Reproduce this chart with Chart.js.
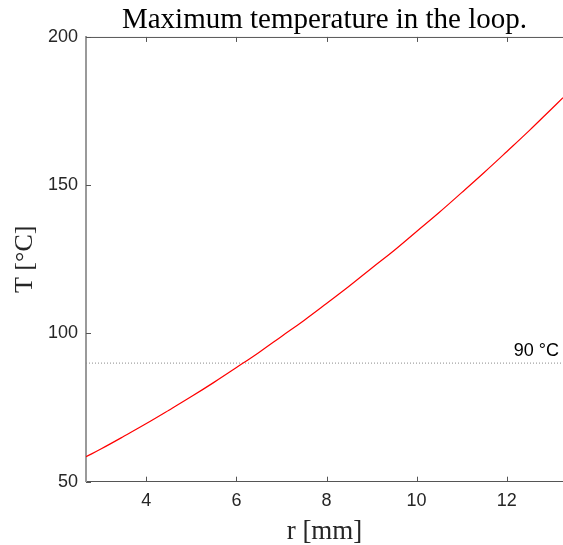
<!DOCTYPE html>
<html>
<head>
<meta charset="utf-8">
<script src="https://cdn.jsdelivr.net/npm/chart.js@4.4.1/dist/chart.umd.min.js"></script>
<style>
  html, body { margin: 0; padding: 0; background: #fff; }
</style>
</head>
<body>
<canvas id="chart" width="563" height="545"></canvas>
<script>
// values
const radius  = [2.66, 3, 3.5, 4, 4.5, 5, 5.5, 6, 6.5, 7, 7.5, 8, 8.5, 9, 9.5, 10, 10.5, 11, 11.5, 12, 12.5, 13, 13.25];
const maxTemp = [58.4, 61.1, 65.3, 69.6, 74.1, 78.7, 83.5, 88.5, 93.6, 99.0, 104.4, 110.1, 115.9, 122.0, 128.0, 134.4, 140.8, 147.5, 154.3, 161.3, 168.4, 175.8, 179.5];
const limitTemp = 90;
const limitLabel = '90 °C';
const xTicks = [4, 6, 8, 10, 12];
const yTicks = [50, 100, 150, 200];
const xRange = [2.66, 13.25];
const yRange = [50, 200];

const tickFont = { family: 'Liberation Sans, Arial, sans-serif', size: 18 };
const serif = 'Liberation Serif, Times New Roman, serif';

// MATLAB-style ticks pointing into the box, plus the top frame and the limit label
const boxDecor = {
  id: 'boxDecor',
  afterDraw(chart) {
    const { ctx, chartArea: a, scales: { x, y } } = chart;
    ctx.save();
    ctx.strokeStyle = '#555';
    ctx.lineWidth = 1;
    ctx.beginPath();
    ctx.moveTo(a.left, a.top + 0.5);
    ctx.lineTo(a.right, a.top + 0.5);
    xTicks.forEach(v => {
      const px = Math.round(x.getPixelForValue(v)) + 0.5;
      ctx.moveTo(px, a.bottom);
      ctx.lineTo(px, a.bottom - 5);
      ctx.moveTo(px, a.top);
      ctx.lineTo(px, a.top + 5);
    });
    yTicks.forEach(v => {
      const py = Math.round(y.getPixelForValue(v)) + 0.5;
      ctx.moveTo(a.left, py);
      ctx.lineTo(a.left + 5, py);
    });
    ctx.stroke();

    ctx.fillStyle = '#000';
    ctx.font = '18px Liberation Sans, Arial, sans-serif';
    ctx.textAlign = 'right';
    ctx.textBaseline = 'alphabetic';
    ctx.fillText(limitLabel, a.right - 4, y.getPixelForValue(limitTemp) - 7);
    ctx.restore();
  }
};

new Chart(document.getElementById('chart'), {
  type: 'line',
  data: {
    datasets: [
      {
        data: radius.map((r, i) => ({ x: r, y: maxTemp[i] })),
        borderColor: '#ff0000',
        borderWidth: 1.2,
        pointRadius: 0,
        tension: 0.4,
        fill: false
      },
      {
        data: [{ x: xRange[0], y: limitTemp }, { x: xRange[1], y: limitTemp }],
        borderColor: '#8a8a8a',
        borderWidth: 1,
        borderDash: [1, 2],
        pointRadius: 0,
        fill: false
      }
    ]
  },
  options: {
    responsive: false,
    animation: false,
    layout: { padding: 0 },
    plugins: {
      legend: { display: false },
      tooltip: { enabled: false },
      title: {
        display: true,
        text: 'Maximum temperature in the loop.',
        fullSize: false,
        color: '#000',
        font: { family: serif, size: 29, weight: 'normal', lineHeight: 1.15 },
        padding: { top: 3.6, bottom: 0 }
      }
    },
    scales: {
      x: {
        type: 'linear',
        min: xRange[0],
        max: xRange[1],
        afterBuildTicks: s => { s.ticks = xTicks.map(v => ({ value: v })); },
        afterFit: s => { s.height = 63.3; },
        grid: { drawOnChartArea: false, drawTicks: false },
        border: { display: true, color: '#555', width: 1 },
        ticks: { font: tickFont, color: '#262626', padding: 9, maxRotation: 0 },
        title: {
          display: true,
          text: 'r [mm]',
          color: '#262626',
          font: { family: serif, size: 27, lineHeight: 1 },
          padding: { top: 0, bottom: 0 }
        }
      },
      y: {
        type: 'linear',
        min: yRange[0],
        max: yRange[1],
        afterBuildTicks: s => { s.ticks = yTicks.map(v => ({ value: v })); },
        afterFit: s => { s.width = 86; },
        grid: { drawOnChartArea: false, drawTicks: false },
        border: { display: true, color: '#9a9a9a', width: 2 },
        ticks: { font: tickFont, color: '#262626', padding: 8 },
        title: {
          display: true,
          text: 'T [°C]',
          color: '#262626',
          font: { family: serif, size: 26, lineHeight: 1 },
          padding: { top: 12.5, bottom: 0 }
        }
      }
    }
  },
  plugins: [boxDecor]
});
</script>
</body>
</html>
